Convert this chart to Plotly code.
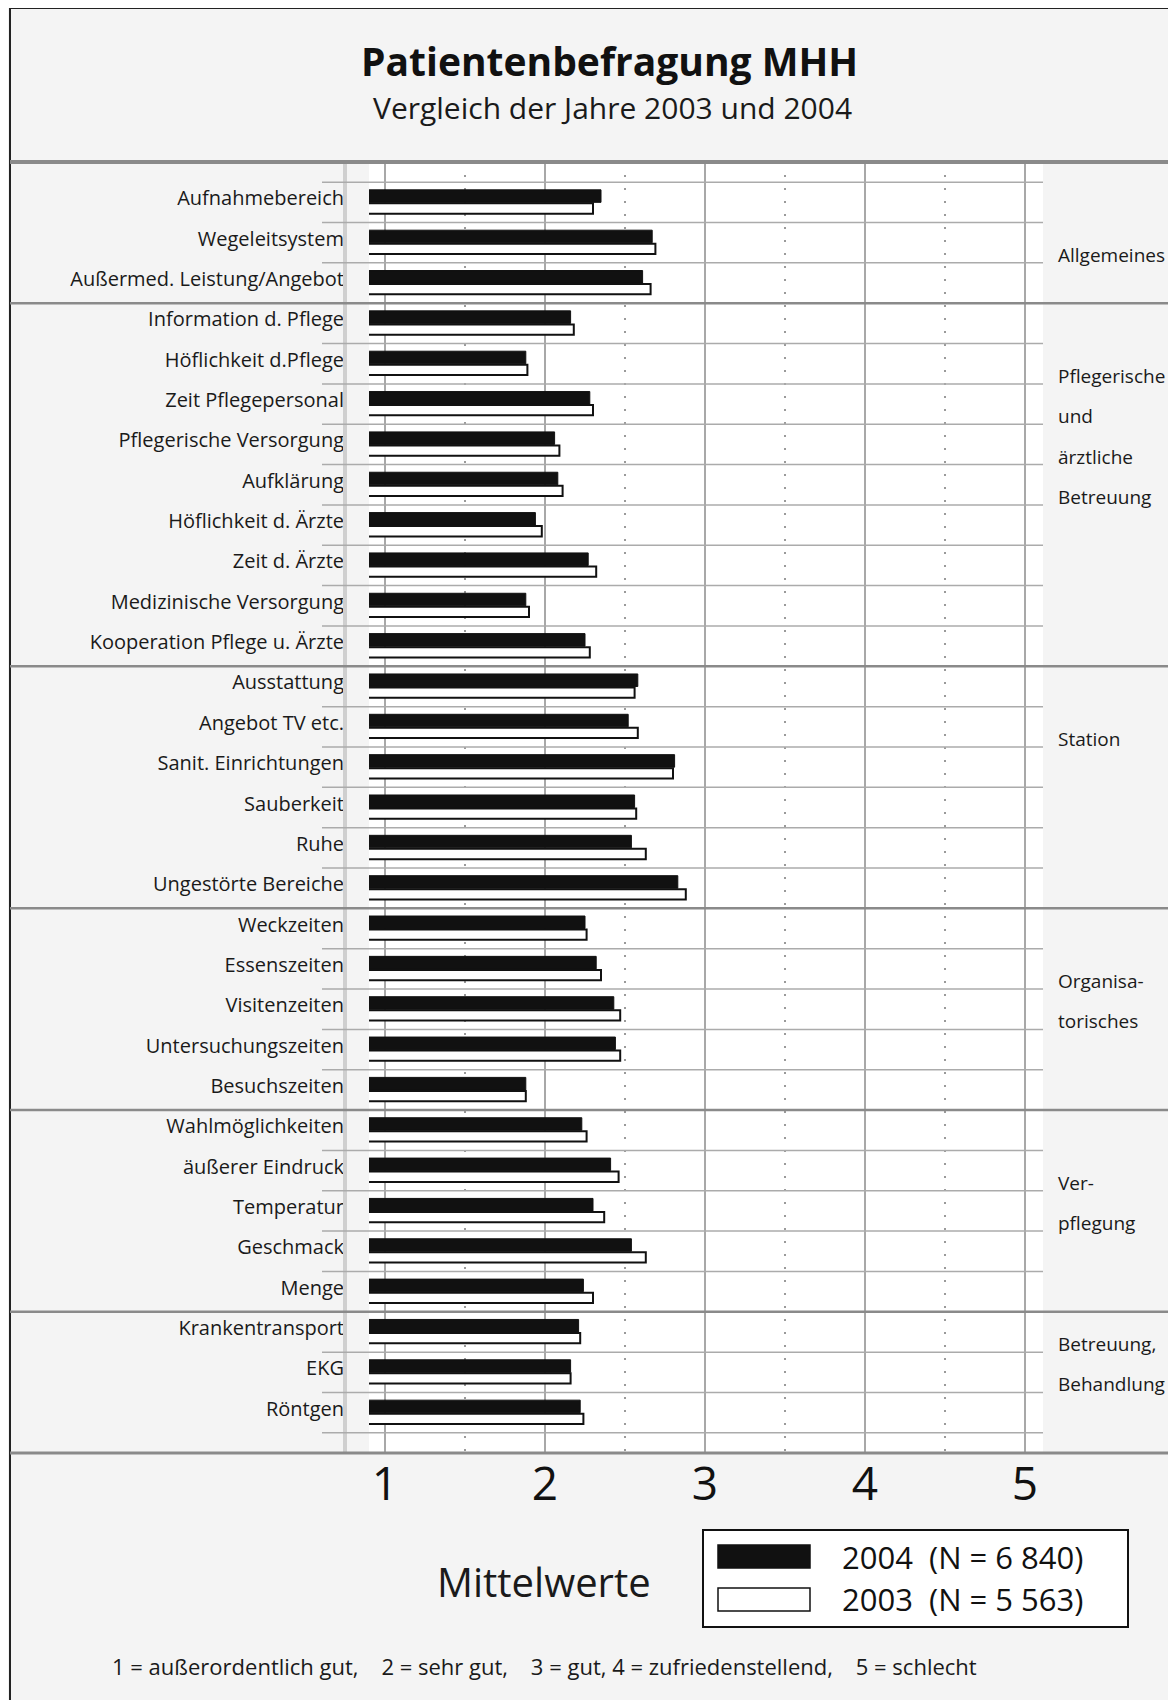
import plotly.graph_objects as go

# ---------------- data ----------------
categories = [
    "Aufnahmebereich", "Wegeleitsystem", "Außermed. Leistung/Angebot",
    "Information d. Pflege", "Höflichkeit d.Pflege", "Zeit Pflegepersonal",
    "Pflegerische Versorgung", "Aufklärung", "Höflichkeit d. Ärzte", "Zeit d. Ärzte",
    "Medizinische Versorgung", "Kooperation Pflege u. Ärzte",
    "Ausstattung", "Angebot TV etc.", "Sanit. Einrichtungen", "Sauberkeit", "Ruhe",
    "Ungestörte Bereiche",
    "Weckzeiten", "Essenszeiten", "Visitenzeiten", "Untersuchungszeiten", "Besuchszeiten",
    "Wahlmöglichkeiten", "äußerer Eindruck", "Temperatur", "Geschmack", "Menge",
    "Krankentransport", "EKG", "Röntgen",
]

values_2004 = [2.35, 2.67, 2.61,
               2.16, 1.88, 2.28, 2.06, 2.08, 1.94, 2.27, 1.88, 2.25,
               2.58, 2.52, 2.81, 2.56, 2.54, 2.83,
               2.25, 2.32, 2.43, 2.44, 1.88,
               2.23, 2.41, 2.30, 2.54, 2.24,
               2.21, 2.16, 2.22]

values_2003 = [2.30, 2.69, 2.66,
               2.18, 1.89, 2.30, 2.09, 2.11, 1.98, 2.32, 1.90, 2.28,
               2.56, 2.58, 2.80, 2.57, 2.63, 2.88,
               2.26, 2.35, 2.47, 2.47, 1.88,
               2.26, 2.46, 2.37, 2.63, 2.30,
               2.22, 2.16, 2.24]

group_sizes = [3, 9, 6, 5, 5, 3]
group_labels = [
    ["Allgemeines"],
    ["Pflegerische", "und", "ärztliche", "Betreuung"],
    ["Station"],
    ["Organisa-", "torisches"],
    ["Ver-", "pflegung"],
    ["Betreuung,", "Behandlung"],
]

tick_values = [1, 2, 3, 4, 5]
tick_labels = ["1", "2", "3", "4", "5"]
half_ticks = [1.5, 2.5, 3.5, 4.5]

series_names = ["2004\u00a0\u00a0(N = 6\u00a0840)", "2003\u00a0\u00a0(N = 5\u00a0563)"]

title_text = "Patientenbefragung MHH"
subtitle_text = "Vergleich der Jahre 2003 und 2004"
axis_title = "Mittelwerte"
footer_text = ("1 = außerordentlich gut,\u00a0\u00a0\u00a0 2 = sehr gut,\u00a0\u00a0\u00a0 3 = gut, "
               "4 = zufriedenstellend,\u00a0\u00a0\u00a0 5 = schlecht")

# ---------------- layout helpers ----------------
OFF = 8                      # page margin of the html body
W, H = 1176 - OFF, 1700 - OFF
FONT = "Open Sans"
TXT = "#1a1a1a"


def px(x):
    return (x - OFF) / W


def py(y):
    return 1 - (y - OFF) / H


n = len(categories)
ypos = list(range(n))

fig = go.Figure()
fig.add_trace(go.Bar(
    name=series_names[0], y=ypos, x=values_2004, orientation="h",
    offset=-0.31, width=0.31,
    marker=dict(color="#111111", line=dict(color="#111111", width=1)),
    showlegend=False,
))
fig.add_trace(go.Bar(
    name=series_names[1], y=ypos, x=values_2003, orientation="h",
    offset=0.025, width=0.255,
    marker=dict(color="#ffffff", line=dict(color="#111111", width=2)),
    showlegend=False,
))

shapes = []
# outer frame (top + left)
shapes.append(dict(type="line", xref="paper", yref="paper",
                   x0=px(10), x1=1, y0=py(8), y1=py(8),
                   line=dict(color="#222222", width=2), layer="above"))
shapes.append(dict(type="line", xref="paper", yref="paper",
                   x0=px(10), x1=px(10), y0=py(8), y1=0,
                   line=dict(color="#222222", width=2), layer="above"))
# light vertical bar left of plot
shapes.append(dict(type="line", xref="paper", yref="paper",
                   x0=px(345), x1=px(345), y0=py(162), y1=py(1453),
                   line=dict(color="#cfcfcf", width=4), layer="above"))

# row separators and group separators
group_bounds = []
acc = 0
for s in group_sizes[:-1]:
    acc += s
    group_bounds.append(acc)
for k in range(n + 1):
    yb = k - 0.5
    if k in group_bounds:
        shapes.append(dict(type="line", xref="paper", yref="y",
                           x0=px(10), x1=1, y0=yb, y1=yb,
                           line=dict(color="#8a8a8a", width=2.5), layer="above"))
    else:
        shapes.append(dict(type="line", xref="paper", yref="y",
                           x0=px(322), x1=px(1043), y0=yb, y1=yb,
                           line=dict(color="#ababab", width=1.5), layer="above"))

# thick top and bottom lines of chart body
shapes.append(dict(type="line", xref="paper", yref="paper",
                   x0=px(10), x1=1, y0=py(162), y1=py(162),
                   line=dict(color="#8a8a8a", width=4), layer="above"))
shapes.append(dict(type="line", xref="paper", yref="paper",
                   x0=px(10), x1=1, y0=py(1453), y1=py(1453),
                   line=dict(color="#8a8a8a", width=3), layer="above"))

# legend box + swatches
shapes.append(dict(type="rect", xref="paper", yref="paper",
                   x0=px(703), x1=px(1128), y0=py(1530), y1=py(1627),
                   fillcolor="#ffffff", line=dict(color="#111111", width=2), layer="above"))
shapes.append(dict(type="rect", xref="paper", yref="paper",
                   x0=px(718), x1=px(810), y0=py(1545), y1=py(1568),
                   fillcolor="#111111", line=dict(color="#111111", width=1.5), layer="above"))
shapes.append(dict(type="rect", xref="paper", yref="paper",
                   x0=px(718), x1=px(810), y0=py(1588), y1=py(1611),
                   fillcolor="#ffffff", line=dict(color="#111111", width=1.5), layer="above"))

annotations = []
annotations.append(dict(text=f"<b>{title_text}</b>", xref="paper", yref="paper",
                        x=px(609), y=py(60), xanchor="center", yanchor="middle",
                        showarrow=False, font=dict(family=FONT, size=39, color="#111111")))
annotations.append(dict(text=subtitle_text, xref="paper", yref="paper",
                        x=px(612), y=py(108), xanchor="center", yanchor="middle",
                        showarrow=False, font=dict(family=FONT, size=30, color=TXT)))

# group labels on the right
start_offsets = [1, 1, 1, 1, 1, 0]
gstart = 0
for size, lines, off in zip(group_sizes, group_labels, start_offsets):
    for j, line in enumerate(lines):
        annotations.append(dict(text=line, xref="paper", yref="y",
                                x=px(1056), y=gstart + off + j + 0.3,
                                xanchor="left", yanchor="middle", showarrow=False,
                                font=dict(family=FONT, size=19, color=TXT)))
    gstart += size

annotations.append(dict(text=axis_title, xref="paper", yref="paper",
                        x=px(544), y=py(1581), xanchor="center", yanchor="middle",
                        showarrow=False, font=dict(family=FONT, size=40, color=TXT)))
for name, ycen in zip(series_names, [1557, 1599]):
    annotations.append(dict(text=name, xref="paper", yref="paper",
                            x=px(840), y=py(ycen), xanchor="left", yanchor="middle",
                            showarrow=False, font=dict(family=FONT, size=31, color="#111111")))
annotations.append(dict(text=footer_text, xref="paper", yref="paper",
                        x=px(544), y=py(1666), xanchor="center", yanchor="middle",
                        showarrow=False, font=dict(family=FONT, size=22, color=TXT)))

fig.update_layout(
    width=W, height=H,
    margin=dict(l=0, r=0, t=0, b=0),
    paper_bgcolor="#f4f4f4",
    plot_bgcolor="#ffffff",
    barmode="overlay",
    showlegend=False,
    shapes=shapes,
    annotations=annotations,
    xaxis=dict(
        domain=[px(369), px(1043)], range=[0.9, 5.1125],
        tickmode="array", tickvals=tick_values, ticktext=tick_labels,
        ticks="", showline=False, zeroline=False,
        showgrid=True, gridcolor="#a8a8a8", gridwidth=1.5,
        minor=dict(tickmode="array", tickvals=half_ticks, showgrid=True,
                   gridcolor="#9a9a9a", gridwidth=1.5, griddash="2px,11px", ticks=""),
        tickfont=dict(family=FONT, size=46, color="#111111"),
        ticklabelstandoff=0,
        fixedrange=True,
    ),
    yaxis=dict(
        domain=[py(1453), py(162)], range=[31, -1],
        tickmode="array", tickvals=ypos, ticktext=categories,
        ticks="", showline=False, zeroline=False, showgrid=False,
        tickfont=dict(family=FONT, size=20, color=TXT),
        ticklabelstandoff=24,
        ticklabelshift=4,
        fixedrange=True,
    ),
)

fig.write_html("out.html")
